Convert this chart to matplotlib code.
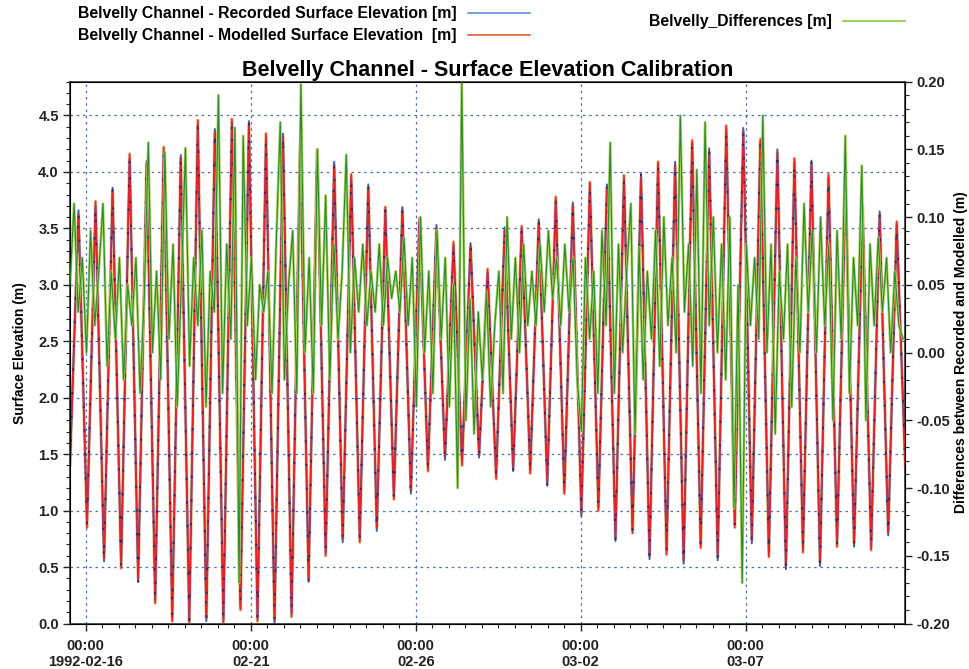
import matplotlib
matplotlib.use("Agg")
import matplotlib.pyplot as plt
import matplotlib.dates as mdates
from matplotlib.lines import Line2D
from matplotlib.ticker import MultipleLocator, FixedLocator
import pandas as pd

# ---------------- data ----------------
tide_start = "1992-02-15 12:30"
tide_step = "372min"          # spacing between successive high / low waters
start_level = 1.40
end_level = 1.40

modelled_peaks = [3.62, 3.74, 3.83, 4.16, 4.08, 4.22, 4.12, 4.46, 4.35, 4.47,
                  4.42, 4.34, 4.31, 4.22, 4.20, 4.06, 3.98, 3.86, 3.69, 3.66,
                  3.59, 3.50, 3.38, 3.34, 3.14, 3.48, 3.52, 3.55, 3.78, 3.70,
                  3.91, 3.86, 3.97, 3.95, 4.09, 4.06, 4.28, 4.18, 4.41, 4.36,
                  4.29, 4.17, 4.12, 4.07, 3.98, 3.84, 3.70, 3.62, 3.56]
modelled_troughs = [0.85, 0.58, 0.49, 0.40, 0.18, 0.02, 0.00, 0.05, 0.00, 0.12,
                    0.02, 0.03, 0.06, 0.40, 0.60, 0.75, 0.72, 0.85, 1.10, 1.18,
                    1.35, 1.48, 1.40, 1.50, 1.28, 1.38, 1.33, 1.25, 1.15, 0.98,
                    1.00, 0.76, 0.80, 0.60, 0.61, 0.56, 0.67, 0.59, 0.85, 0.74,
                    0.59, 0.51, 0.63, 0.54, 0.68, 0.71, 0.65, 0.81]

recorded_peaks = [3.66, 3.70, 3.86, 4.12, 4.10, 4.18, 4.15, 4.42, 4.38, 4.44,
                  4.45, 4.30, 4.34, 4.25, 4.16, 4.09, 3.95, 3.89, 3.66, 3.69,
                  3.56, 3.53, 3.35, 3.37, 3.11, 3.51, 3.49, 3.58, 3.75, 3.73,
                  3.88, 3.89, 3.94, 3.98, 4.06, 4.09, 4.25, 4.21, 4.38, 4.39,
                  4.26, 4.20, 4.09, 4.10, 3.95, 3.87, 3.67, 3.65, 3.53]
recorded_troughs = [0.88, 0.55, 0.52, 0.37, 0.21, 0.05, 0.03, 0.02, 0.03, 0.15,
                    0.05, 0.00, 0.09, 0.37, 0.63, 0.72, 0.75, 0.82, 1.13, 1.15,
                    1.38, 1.45, 1.43, 1.47, 1.31, 1.35, 1.36, 1.22, 1.18, 0.95,
                    1.03, 0.73, 0.83, 0.57, 0.64, 0.53, 0.70, 0.56, 0.88, 0.71,
                    0.62, 0.48, 0.66, 0.51, 0.71, 0.68, 0.68, 0.78]

diff_start = "1992-02-15 12:30"
diff_step = "3h"
differences = [
    0.05, 0.11, 0.03, 0.07, 0.00, 0.09, 0.02, 0.06,
    0.11, -0.01, 0.06, 0.01, 0.07, -0.02, 0.05, 0.02,
    0.07, -0.03, 0.04, 0.155, 0.00, 0.06, -0.02, 0.148,
    0.01, 0.08, -0.04, 0.05, 0.151, -0.01, 0.07, 0.02,
    0.09, -0.04, 0.06, 0.03, 0.19, -0.03, 0.08, 0.01,
    0.166, -0.17, 0.16, 0.02, 0.07, -0.02, 0.05, 0.03,
    0.06, -0.03, 0.08, 0.17, -0.02, 0.05, 0.09, -0.03,
    0.198, 0.00, 0.07, -0.03, 0.15, 0.02, 0.116, -0.02,
    0.08, 0.01, 0.06, 0.146, 0.00, 0.07, 0.03, 0.08,
    0.02, 0.06, 0.03, 0.08, 0.02, 0.07, 0.04, 0.06,
    0.03, 0.085, 0.02, 0.07, -0.04, 0.10, 0.00, 0.06,
    -0.03, 0.09, 0.01, 0.07, -0.04, 0.05, -0.10, 0.20,
    -0.05, 0.04, -0.06, 0.03, -0.02, 0.045, -0.04, 0.02,
    0.06, -0.03, 0.10, 0.01, 0.07, 0.00, 0.08, 0.02,
    0.06, 0.02, 0.08, 0.03, 0.09, 0.04, 0.07, 0.02,
    0.08, 0.03, 0.07, -0.02, -0.058, 0.07, 0.01, 0.06,
    -0.03, 0.09, 0.02, 0.155, -0.03, 0.08, 0.00, 0.06,
    0.11, -0.06, 0.078, -0.02, 0.06, 0.01, 0.09, -0.01,
    0.10, 0.02, 0.07, 0.00, 0.175, 0.03, 0.08, -0.01,
    0.135, -0.03, 0.17, 0.02, 0.10, 0.00, 0.08, -0.02,
    0.10, -0.115, 0.05, -0.17, 0.08, 0.02, 0.07, 0.01,
    0.175, 0.00, 0.08, -0.06, 0.06, 0.01, 0.08, -0.04,
    0.07, 0.00, 0.11, 0.03, 0.09, 0.00, 0.10, 0.02,
    0.08, -0.05, 0.09, 0.01, 0.16, -0.03, 0.07, 0.02,
    0.138, -0.05, 0.08, 0.02, 0.085, 0.03, 0.07, 0.00,
    0.06, 0.02, 0.01,
]

tick_dates = ["1992-02-16", "1992-02-21", "1992-02-26", "1992-03-02", "1992-03-07"]
tick_labels = ["00:00\n1992-02-16", "00:00\n02-21", "00:00\n02-26", "00:00\n03-02", "00:00\n03-07"]

title = "Belvelly Channel - Surface Elevation Calibration"
label_rec = "Belvelly Channel - Recorded Surface Elevation [m]"
label_mod = "Belvelly Channel - Modelled Surface Elevation  [m]"
label_diff = "Belvelly_Differences [m]"

# ---------------- build series ----------------
def interleave(first, peaks, troughs, last):
    seq = [first]
    for i, p in enumerate(peaks):
        seq.append(p)
        if i < len(troughs):
            seq.append(troughs[i])
    seq.append(last)
    return seq

mod = interleave(start_level, modelled_peaks, modelled_troughs, end_level)
rec = interleave(start_level, recorded_peaks, recorded_troughs, end_level)
t_tide = pd.date_range(tide_start, periods=len(mod), freq=tide_step)
t_diff = pd.date_range(diff_start, periods=len(differences), freq=diff_step)

# ---------------- figure ----------------
plt.rcParams["font.family"] = ["Liberation Sans", "DejaVu Sans"]

fig = plt.figure(figsize=(9.69, 6.69), dpi=100)
ax = fig.add_axes([0.0722, 0.068, 0.862, 0.810])
ax2 = ax.twinx()

grid_c = "#4f6fae"
ax.plot(t_tide, mod, color="#f3a05a", lw=2.4, alpha=0.7, zorder=1)
ax.plot(t_tide, rec, color="#3b5fb0", lw=1.4, zorder=2)
ax.plot(t_tide, mod, color="#e6232b", lw=1.1, zorder=3)
ax.plot(t_tide, rec, color="#26306a", lw=1.4, ls=(0, (1.2, 11)), zorder=4)

ax2.plot(t_diff, differences, color="#a6d264", lw=1.9, zorder=2)
ax2.plot(t_diff, differences, color="#2e8a26", lw=0.8, zorder=3)

ax.set_ylim(0, 4.8)
ax2.set_ylim(-0.2, 0.2)
ax.set_xlim(t_tide[0], t_tide[-1])

ax.yaxis.set_minor_locator(MultipleLocator(0.1))
ax2.yaxis.set_minor_locator(MultipleLocator(0.01))
ax.set_yticks([0.0, 0.5, 1.0, 1.5, 2.0, 2.5, 3.0, 3.5, 4.0, 4.5])
ax.set_yticklabels(["0.0", "0.5", "1.0", "1.5", "2.0", "2.5", "3.0", "3.5", "4.0", "4.5"])
ax2.set_yticks([-0.2, -0.15, -0.1, -0.05, 0.0, 0.05, 0.1, 0.15, 0.2])
ax2.set_yticklabels(["-0.20", "-0.15", "-0.10", "-0.05", "0.00", "0.05", "0.10", "0.15", "0.20"])

tick_pos = mdates.date2num(pd.to_datetime(tick_dates))
ax.xaxis.set_major_locator(FixedLocator(tick_pos))
ax.set_xticklabels(tick_labels)
ax.xaxis.set_minor_locator(mdates.HourLocator(byhour=[0, 12]))

for a in (ax, ax2):
    a.tick_params(which="major", direction="out", length=5, width=1.0, colors="#222222")
    a.tick_params(which="minor", direction="out", length=3, width=0.8, colors="#222222")
ax.tick_params(axis="y", labelsize=10.5, pad=3)
ax2.tick_params(axis="y", labelsize=10.5, pad=3)
ax.tick_params(axis="x", labelsize=10.5, pad=6)
for lab in ax.get_yticklabels() + ax2.get_yticklabels() + ax.get_xticklabels():
    lab.set_fontweight("bold")

ax.grid(True, which="major", axis="both", color=grid_c, lw=0.9, ls=(0, (2, 3)))
for s in ax.spines.values():
    s.set_color("#333333")
    s.set_linewidth(1.2)

ax.set_ylabel("Surface Elevation (m)", fontsize=10, fontweight="bold", labelpad=8)
ax2.set_ylabel("Differences between Recorded and Modelled (m)", fontsize=10,
               fontweight="bold", labelpad=3)
ax.set_title(title, fontsize=15.5, fontweight="bold", pad=4)

h_rec = Line2D([], [], color="#5b8fd4", lw=1.2)
h_mod = Line2D([], [], color="#e4603c", lw=1.2)
h_dif = Line2D([], [], color="#8cc63f", lw=1.2)
leg_prop = {"weight": "bold", "size": 11.3}
fig.legend([h_rec, h_mod], [label_rec, label_mod], loc="upper left",
           bbox_to_anchor=(0.066, 1.012), frameon=False, markerfirst=False,
           prop=leg_prop, handlelength=4.0, labelspacing=0.45, handletextpad=0.7)
fig.legend([h_dif], [label_diff], loc="upper left",
           bbox_to_anchor=(0.655, 1.0), frameon=False, markerfirst=False,
           prop=leg_prop, handlelength=4.0, handletextpad=0.7)

fig.savefig("out.png", dpi=100)
